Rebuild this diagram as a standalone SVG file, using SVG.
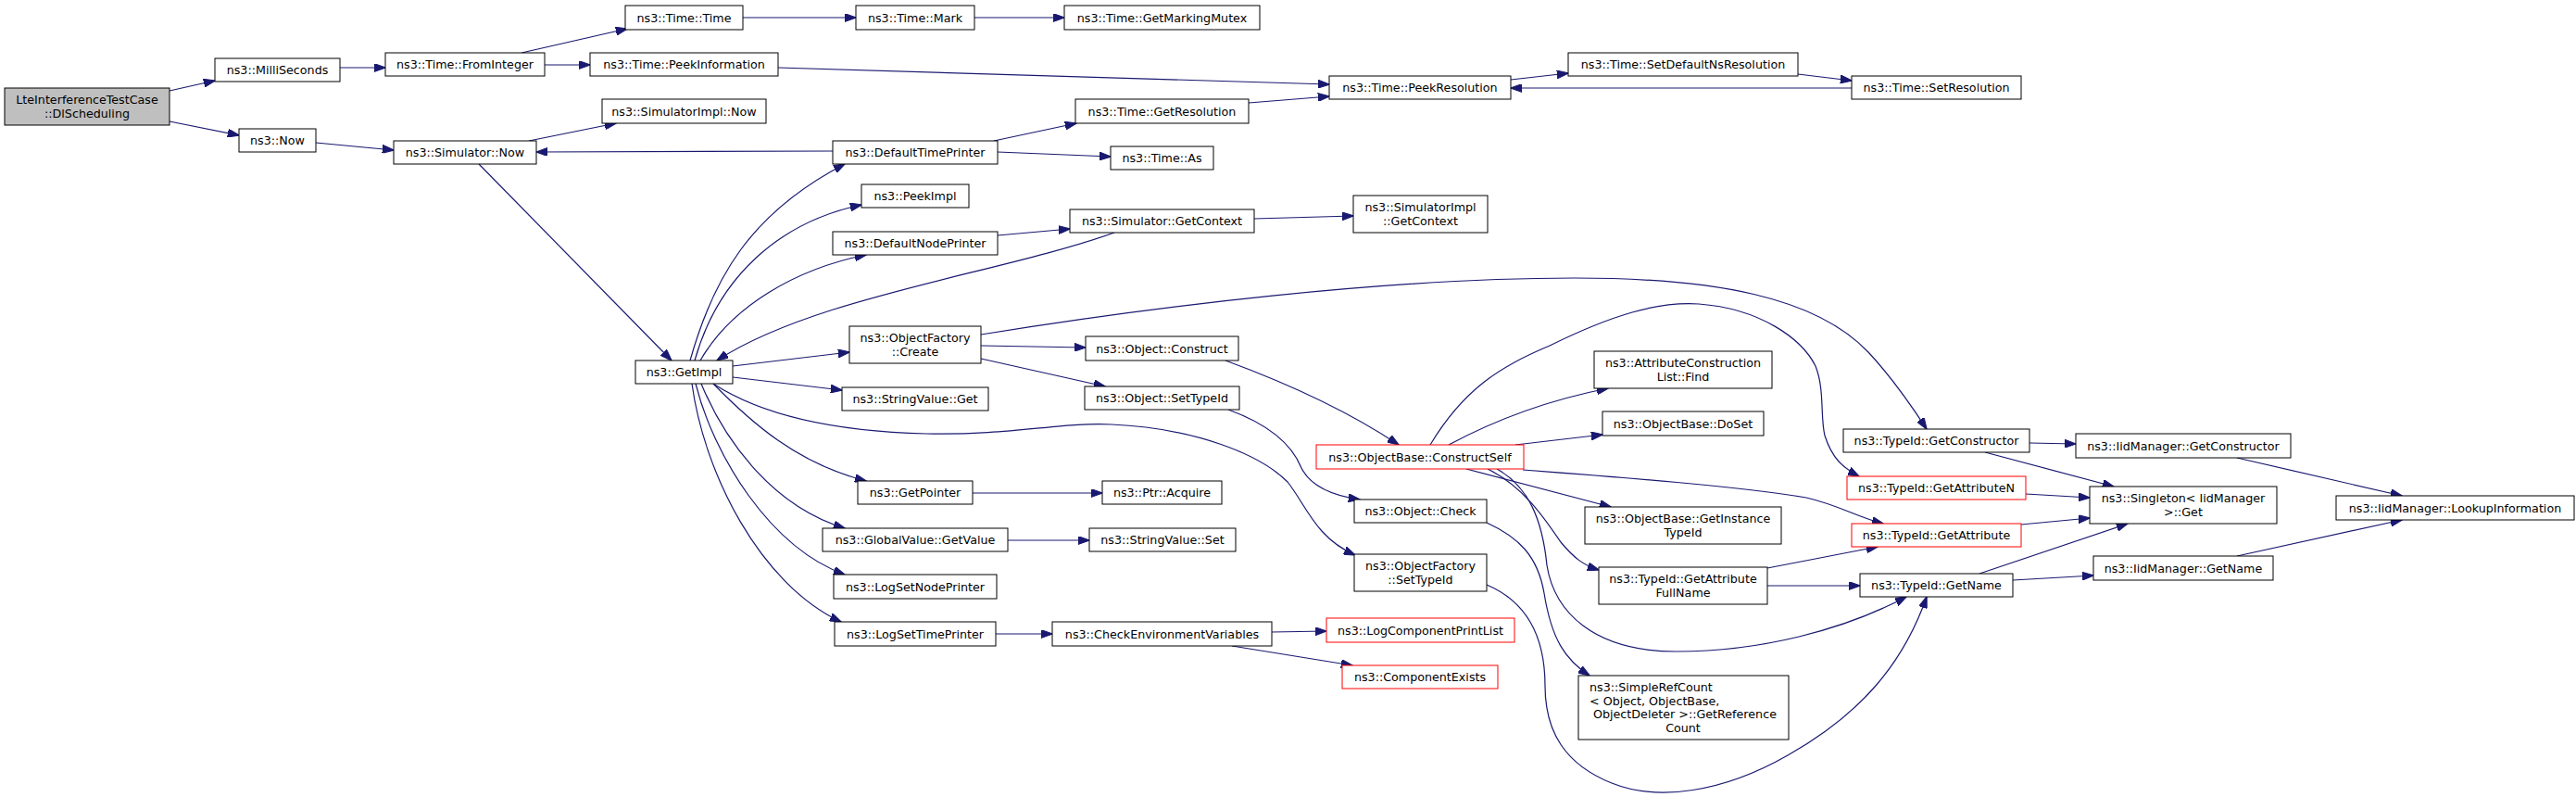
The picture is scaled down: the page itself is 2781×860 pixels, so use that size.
<svg xmlns="http://www.w3.org/2000/svg" width="2781" height="860" viewBox="0 0 2781 860">
<style>
.n rect{fill:#fff;stroke:#000;stroke-width:1}
.n.r rect{stroke:#f00}
.n.root rect{fill:#bfbfbf}
text{font-family:"DejaVu Sans","Liberation Sans",sans-serif;font-size:12.7px;text-anchor:middle;fill:#000}
text.l{text-anchor:start}
#edges path{fill:none;stroke:#191970;stroke-width:1.2;marker-end:url(#a)}
</style>
<defs>
<marker id="a" viewBox="0 0 12.7 9" refX="12.2" refY="4.5" markerWidth="12.7" markerHeight="9" markerUnits="userSpaceOnUse" orient="auto">
<path d="M0,0 L12.7,4.5 L0,9 z" fill="#191970" stroke="#191970" stroke-width="1"/>
</marker>
</defs>
<rect width="2781" height="860" fill="#fff"/>
<g id="edges">
<path d="M183,98 L232,87"/>
<path d="M183,131 L258,146"/>
<path d="M367,73 L416,73"/>
<path d="M563,57 L677,31"/>
<path d="M588,70 L637,70"/>
<path d="M802,19 L924,19"/>
<path d="M1052,19 L1149,19"/>
<path d="M840,73 L1435,91"/>
<path d="M1631,86 L1693,79"/>
<path d="M1941,80 L1999,87"/>
<path d="M1999,95 L1631,95"/>
<path d="M1348,111 L1435,104"/>
<path d="M341,154 L425,162"/>
<path d="M571,152 L665,133"/>
<path d="M517,177 L725,389"/>
<path d="M899,163 L579,164"/>
<path d="M1073,152 L1162,133"/>
<path d="M1077,164 L1199,169"/>
<path d="M745,389 C770,300 810,230 912,177"/>
<path d="M750,389 C775,300 840,240 930,221"/>
<path d="M756,389 C790,330 860,290 935,275"/>
<path d="M1203,251 C1080,295 880,320 774,389"/>
<path d="M1077,254 L1155,247"/>
<path d="M1354,236 L1461,233"/>
<path d="M791,395 L917,380"/>
<path d="M791,407 L909,421"/>
<path d="M770,414 C810,440 880,465 1000,468 C1090,470 1150,455 1200,458 C1290,462 1360,490 1390,520 C1410,545 1420,580 1463,599"/>
<path d="M770,414 C810,455 860,500 935,519"/>
<path d="M757,414 C780,470 830,545 912,570"/>
<path d="M751,414 C770,490 830,590 912,620"/>
<path d="M747,414 C760,510 820,630 908,671"/>
<path d="M1059,373 L1172,375"/>
<path d="M1059,387 L1193,417"/>
<path d="M1059,361 C1250,330 1500,300 1700,300 C1850,300 1960,320 2017,380 C2045,410 2065,440 2080,463"/>
<path d="M1323,389 C1380,410 1450,440 1510,480"/>
<path d="M1326,442 C1370,458 1395,480 1405,505 C1415,525 1440,535 1468,539"/>
<path d="M1564,480 C1620,450 1680,430 1736,419"/>
<path d="M1636,480 L1730,469"/>
<path d="M1544,480 C1580,420 1620,395 1673,373 C1740,340 1790,325 1834,328 C1900,333 1945,365 1960,395 C1970,420 1965,450 1970,470 C1978,495 1990,505 2007,514"/>
<path d="M1583,506 L1739,547"/>
<path d="M1606,506 C1645,525 1668,560 1685,585 C1700,603 1710,610 1726,615"/>
<path d="M1644,507 C1750,515 1880,525 1950,537 C1985,545 2005,558 2033,565"/>
<path d="M1616,506 C1650,525 1665,560 1670,610 C1678,660 1720,703 1810,703 C1900,703 1990,680 2058,644"/>
<path d="M1605,564 C1640,580 1660,600 1667,640 C1675,690 1690,712 1716,729"/>
<path d="M1605,631 C1650,650 1668,690 1668,740 C1668,790 1690,825 1740,845 C1790,865 1860,855 1930,815 C2010,770 2055,715 2080,644"/>
<path d="M1908,613 L2027,590"/>
<path d="M1908,632 L2008,632"/>
<path d="M2191,478 L2241,479"/>
<path d="M2143,488 L2282,525"/>
<path d="M2187,533 L2256,537"/>
<path d="M2182,566 L2256,559"/>
<path d="M2137,619 L2297,565"/>
<path d="M2173,626 L2260,621"/>
<path d="M2415,494 L2593,535"/>
<path d="M2415,600 L2593,561"/>
<path d="M1050,532 L1190,532"/>
<path d="M1088,583 L1176,583"/>
<path d="M1075,684 L1136,684"/>
<path d="M1373,682 L1432,681"/>
<path d="M1330,697 L1460,718"/>
</g>
<g id="root" class="n root"><rect x="5" y="95" width="178" height="40"/><text x="94" y="112">LteInterferenceTestCase</text><text x="94" y="127">::DlScheduling</text></g>
<g id="milliseconds" class="n"><rect x="232" y="63" width="135" height="25"/><text x="299.5" y="80">ns3::MilliSeconds</text></g>
<g id="now" class="n"><rect x="258" y="139" width="83" height="25"/><text x="299.5" y="156">ns3::Now</text></g>
<g id="frominteger" class="n"><rect x="416" y="57" width="172" height="25"/><text x="502" y="74">ns3::Time::FromInteger</text></g>
<g id="simnow" class="n"><rect x="425" y="152" width="154" height="25"/><text x="502" y="169">ns3::Simulator::Now</text></g>
<g id="timetime" class="n"><rect x="675" y="6" width="127" height="26"/><text x="738.5" y="23.5">ns3::Time::Time</text></g>
<g id="peekinformation" class="n"><rect x="637" y="57" width="203" height="25"/><text x="738.5" y="74">ns3::Time::PeekInformation</text></g>
<g id="simimplnow" class="n"><rect x="650" y="107" width="177" height="26"/><text x="738.5" y="124.5">ns3::SimulatorImpl::Now</text></g>
<g id="getimpl" class="n"><rect x="686" y="389" width="105" height="25"/><text x="738.5" y="406">ns3::GetImpl</text></g>
<g id="timemark" class="n"><rect x="924" y="6" width="128" height="26"/><text x="988" y="23.5">ns3::Time::Mark</text></g>
<g id="defaulttimeprinter" class="n"><rect x="899" y="152" width="178" height="25"/><text x="988" y="169">ns3::DefaultTimePrinter</text></g>
<g id="peekimpl" class="n"><rect x="930" y="199" width="116" height="25"/><text x="988" y="216">ns3::PeekImpl</text></g>
<g id="defaultnodeprinter" class="n"><rect x="899" y="250" width="178" height="25"/><text x="988" y="267">ns3::DefaultNodePrinter</text></g>
<g id="objectfactorycreate" class="n"><rect x="917" y="352" width="142" height="40"/><text x="988" y="369">ns3::ObjectFactory</text><text x="988" y="384">::Create</text></g>
<g id="stringvalueget" class="n"><rect x="909" y="418" width="158" height="25"/><text x="988" y="435">ns3::StringValue::Get</text></g>
<g id="getpointer" class="n"><rect x="926" y="519" width="124" height="25"/><text x="988" y="536">ns3::GetPointer</text></g>
<g id="globalvaluegetvalue" class="n"><rect x="888" y="570" width="200" height="25"/><text x="988" y="587">ns3::GlobalValue::GetValue</text></g>
<g id="logsetnodeprinter" class="n"><rect x="900" y="620" width="176" height="26"/><text x="988" y="637.5">ns3::LogSetNodePrinter</text></g>
<g id="logsettimeprinter" class="n"><rect x="901" y="671" width="174" height="26"/><text x="988" y="688.5">ns3::LogSetTimePrinter</text></g>
<g id="getmarkingmutex" class="n"><rect x="1149" y="6" width="211" height="26"/><text x="1254.5" y="23.5">ns3::Time::GetMarkingMutex</text></g>
<g id="timegetresolution" class="n"><rect x="1161" y="107" width="187" height="26"/><text x="1254.5" y="124.5">ns3::Time::GetResolution</text></g>
<g id="timeas" class="n"><rect x="1199" y="158" width="111" height="25"/><text x="1254.5" y="175">ns3::Time::As</text></g>
<g id="simgetcontext" class="n"><rect x="1155" y="226" width="199" height="25"/><text x="1254.5" y="243">ns3::Simulator::GetContext</text></g>
<g id="objectconstruct" class="n"><rect x="1172" y="363" width="165" height="26"/><text x="1254.5" y="380.5">ns3::Object::Construct</text></g>
<g id="objectsettypeid" class="n"><rect x="1171" y="417" width="167" height="25"/><text x="1254.5" y="434">ns3::Object::SetTypeId</text></g>
<g id="ptracquire" class="n"><rect x="1190" y="519" width="129" height="25"/><text x="1254.5" y="536">ns3::Ptr::Acquire</text></g>
<g id="stringvalueset" class="n"><rect x="1176" y="570" width="158" height="25"/><text x="1255" y="587">ns3::StringValue::Set</text></g>
<g id="checkenv" class="n"><rect x="1136" y="671" width="237" height="26"/><text x="1254.5" y="688.5">ns3::CheckEnvironmentVariables</text></g>
<g id="peekresolution" class="n"><rect x="1435" y="82" width="196" height="25"/><text x="1533" y="99">ns3::Time::PeekResolution</text></g>
<g id="simimplgetcontext" class="n"><rect x="1461" y="211" width="145" height="40"/><text x="1533.5" y="228">ns3::SimulatorImpl</text><text x="1533.5" y="243">::GetContext</text></g>
<g id="constructself" class="n r"><rect x="1421" y="480" width="224" height="26"/><text x="1533" y="497.5">ns3::ObjectBase::ConstructSelf</text></g>
<g id="objectcheck" class="n"><rect x="1462" y="539" width="143" height="25"/><text x="1533.5" y="556">ns3::Object::Check</text></g>
<g id="objectfactorysettypeid" class="n"><rect x="1462" y="598" width="143" height="40"/><text x="1533.5" y="615">ns3::ObjectFactory</text><text x="1533.5" y="630">::SetTypeId</text></g>
<g id="logcomponentprintlist" class="n r"><rect x="1432" y="667" width="203" height="26"/><text x="1533.5" y="684.5">ns3::LogComponentPrintList</text></g>
<g id="componentexists" class="n r"><rect x="1449" y="718" width="168" height="25"/><text x="1533" y="735">ns3::ComponentExists</text></g>
<g id="setdefaultnsresolution" class="n"><rect x="1693" y="57" width="248" height="25"/><text x="1817" y="74">ns3::Time::SetDefaultNsResolution</text></g>
<g id="attrfind" class="n"><rect x="1721" y="379" width="192" height="40"/><text x="1817" y="396">ns3::AttributeConstruction</text><text x="1817" y="411">List::Find</text></g>
<g id="doset" class="n"><rect x="1730" y="444" width="174" height="26"/><text x="1817" y="461.5">ns3::ObjectBase::DoSet</text></g>
<g id="getinstancetypeid" class="n"><rect x="1711" y="547" width="212" height="40"/><text x="1817" y="564">ns3::ObjectBase::GetInstance</text><text x="1817" y="579">TypeId</text></g>
<g id="getattributefullname" class="n"><rect x="1726" y="612" width="182" height="40"/><text x="1817" y="629">ns3::TypeId::GetAttribute</text><text x="1817" y="644">FullName</text></g>
<g id="simplerefcount" class="n"><rect x="1704" y="729" width="227" height="69"/><text class="l" x="1716" y="746">ns3::SimpleRefCount</text><text class="l" x="1716" y="760.7">&lt; Object, ObjectBase,</text><text class="l" x="1720" y="775.4">ObjectDeleter &gt;::GetReference</text><text x="1817" y="790">Count</text></g>
<g id="setresolution" class="n"><rect x="1999" y="82" width="183" height="25"/><text x="2090.5" y="99">ns3::Time::SetResolution</text></g>
<g id="typeidgetconstructor" class="n"><rect x="1990" y="463" width="201" height="25"/><text x="2090.5" y="480">ns3::TypeId::GetConstructor</text></g>
<g id="getattributen" class="n r"><rect x="1994" y="514" width="193" height="25"/><text x="2090.5" y="531">ns3::TypeId::GetAttributeN</text></g>
<g id="getattribute" class="n r"><rect x="1999" y="565" width="183" height="25"/><text x="2090.5" y="582">ns3::TypeId::GetAttribute</text></g>
<g id="typeidgetname" class="n"><rect x="2008" y="619" width="165" height="25"/><text x="2090.5" y="636">ns3::TypeId::GetName</text></g>
<g id="iidgetconstructor" class="n"><rect x="2241" y="468" width="232" height="26"/><text x="2357" y="485.5">ns3::IidManager::GetConstructor</text></g>
<g id="singleton" class="n"><rect x="2256" y="525" width="202" height="40"/><text x="2357" y="542">ns3::Singleton&lt; IidManager</text><text x="2357" y="557">&gt;::Get</text></g>
<g id="iidgetname" class="n"><rect x="2260" y="600" width="194" height="26"/><text x="2357" y="617.5">ns3::IidManager::GetName</text></g>
<g id="lookupinformation" class="n"><rect x="2522" y="535" width="257" height="26"/><text x="2650.5" y="552.5">ns3::IidManager::LookupInformation</text></g>
</svg>
